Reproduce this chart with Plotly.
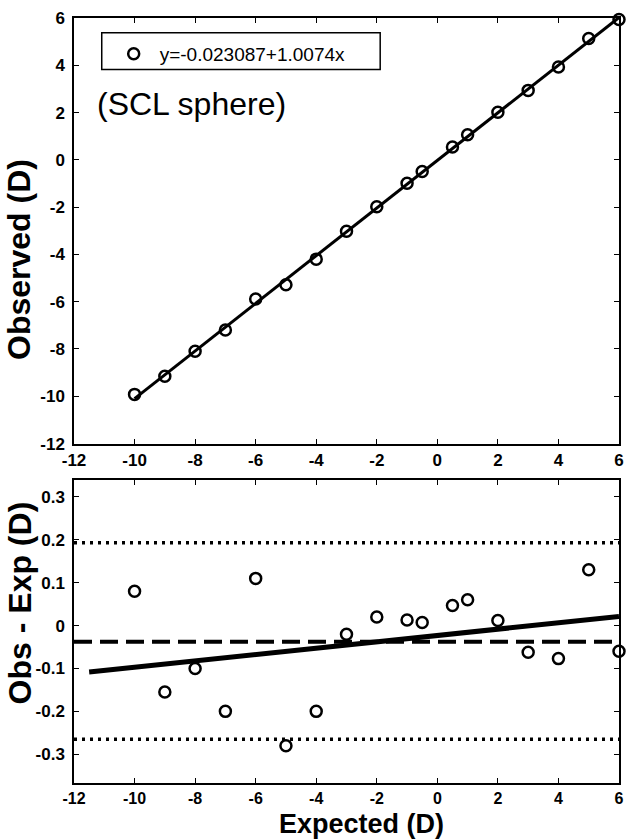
import plotly.graph_objects as go

# expected refraction (D)
expected = [-10, -9, -8, -7, -6, -5, -4, -3, -2, -1, -0.5, 0.5, 1, 2, 3, 4, 5, 6]
# observed - expected (D)
diff = [0.08, -0.155, -0.10, -0.20, 0.11, -0.28, -0.20, -0.02, 0.02, 0.013,
        0.007, 0.047, 0.06, 0.012, -0.062, -0.077, 0.13, -0.06]
observed = [e + d for e, d in zip(expected, diff)]

intercept = -0.023087
slope = 1.0074
fit_x = [-10, 6]
resid_x = [-11.5, 6]
mean_diff = -0.0375
loa_upper = 0.193
loa_lower = -0.265

xticks = [-12, -10, -8, -6, -4, -2, 0, 2, 4, 6]
yticks_top = [-12, -10, -8, -6, -4, -2, 0, 2, 4, 6]
yticks_bot = [-0.3, -0.2, -0.1, 0, 0.1, 0.2, 0.3]
# plain hyphens as in the original, not the unicode minus
xticklabels = [str(v) for v in xticks]
yticklabels_top = [str(v) for v in yticks_top]
yticklabels_bot = ['-0.3', '-0.2', '-0.1', '0', '0.1', '0.2', '0.3']

FONT = 'Liberation Sans'
tickfont = dict(family=FONT, size=17, color='black', weight='bold')
marker = dict(symbol='circle-open', size=11, color='black', line=dict(width=2.5, color='black'))

W, H = 633, 839
PL, PR, PT, PB = 74, 624, 10, 783   # plot area in pixels
PW, PH = PR - PL, PB - PT


def px(x):
    return (x - PL) / PW


def py(y):
    return (PB - y) / PH


fig = go.Figure()

fig.add_trace(go.Scatter(
    x=fit_x, y=[intercept + slope * v for v in fit_x],
    mode='lines', line=dict(color='black', width=3), showlegend=False,
    xaxis='x', yaxis='y'
))
fig.add_trace(go.Scatter(
    x=expected, y=observed, mode='markers', marker=marker,
    name='y=-0.023087+1.0074x', cliponaxis=False,
    xaxis='x', yaxis='y'
))

# lower panel
fig.add_trace(go.Scatter(
    x=[-12, 6], y=[loa_upper, loa_upper], mode='lines',
    line=dict(color='black', width=3.5, dash='3px,5px'), showlegend=False,
    xaxis='x2', yaxis='y2'
))
fig.add_trace(go.Scatter(
    x=[-12, 6], y=[loa_lower, loa_lower], mode='lines',
    line=dict(color='black', width=3.5, dash='3px,5px'), showlegend=False,
    xaxis='x2', yaxis='y2'
))
fig.add_trace(go.Scatter(
    x=[-12, 6], y=[mean_diff, mean_diff], mode='lines',
    line=dict(color='black', width=4, dash='18px,8px'), showlegend=False,
    xaxis='x2', yaxis='y2'
))
fig.add_trace(go.Scatter(
    x=resid_x, y=[intercept + (slope - 1) * v for v in resid_x], mode='lines',
    line=dict(color='black', width=5), showlegend=False,
    xaxis='x2', yaxis='y2'
))
fig.add_trace(go.Scatter(
    x=expected, y=diff, mode='markers', marker=marker, showlegend=False,
    cliponaxis=False, xaxis='x2', yaxis='y2'
))

axis_common = dict(
    showline=True, linecolor='black', linewidth=1.5, mirror='allticks',
    ticks='inside', ticklen=5, tickcolor='black', tickwidth=1.2,
    showgrid=False, zeroline=False, ticklabeloverflow='allow'
)

fig.update_layout(
    width=W, height=H,
    margin=dict(l=PL, r=W - PR, t=PT, b=H - PB),
    plot_bgcolor='white', paper_bgcolor='white',
    xaxis=dict(domain=[0, 1], range=[-12, 6], tickvals=xticks, ticktext=xticklabels,
               anchor='y', ticklabelstandoff=0, tickfont=tickfont, **axis_common),
    yaxis=dict(domain=[py(440), 1], range=[-12, 6], tickvals=yticks_top,
               ticktext=yticklabels_top, anchor='x', ticklabelstandoff=4,
               tickfont=tickfont, **axis_common),
    xaxis2=dict(domain=[0, 1], range=[-12, 6], tickvals=xticks, ticktext=xticklabels,
                anchor='y2', ticklabelstandoff=0, tickfont={**tickfont, 'size': 16},
                **axis_common),
    yaxis2=dict(domain=[0, py(477)], range=[-0.367, 0.339], tickvals=yticks_bot,
                ticktext=yticklabels_bot, anchor='x2', ticklabelstandoff=4,
                tickfont=tickfont, **axis_common),
    showlegend=True,
    legend=dict(x=px(108), y=py(27), xanchor='left', yanchor='top', itemwidth=42,
                bgcolor='rgba(0,0,0,0)', borderwidth=0,
                font=dict(family=FONT, size=19, color='black')),
    shapes=[dict(type='rect', xref='paper', yref='paper',
                 x0=px(102), x1=px(383), y0=py(62), y1=py(25),
                 line=dict(color='black', width=1.5), fillcolor='rgba(0,0,0,0)')],
    annotations=[
        dict(text='(SCL sphere)', xref='paper', yref='paper',
             x=px(95), y=py(97), xanchor='left', yanchor='middle',
             showarrow=False, font=dict(family=FONT, size=32, color='black')),
        dict(text='Observed (D)', xref='paper', yref='paper', textangle=-90,
             x=px(19), y=py(254), xanchor='center', yanchor='middle',
             showarrow=False, font=dict(family=FONT, size=32, color='black', weight='bold')),
        dict(text='Obs - Exp (D)', xref='paper', yref='paper', textangle=-90,
             x=px(19), y=py(601), xanchor='center', yanchor='middle',
             showarrow=False, font=dict(family=FONT, size=32, color='black', weight='bold')),
        dict(text='Expected (D)', xref='paper', yref='paper',
             x=px(364), y=py(824), xanchor='center', yanchor='middle',
             showarrow=False, font=dict(family=FONT, size=27, color='black', weight='bold')),
    ]
)

# drop the default 8px body margin so the figure sits at the page origin
fig.write_html('out.html', config={'displayModeBar': False},
               post_script="document.body.style.margin='0';")
